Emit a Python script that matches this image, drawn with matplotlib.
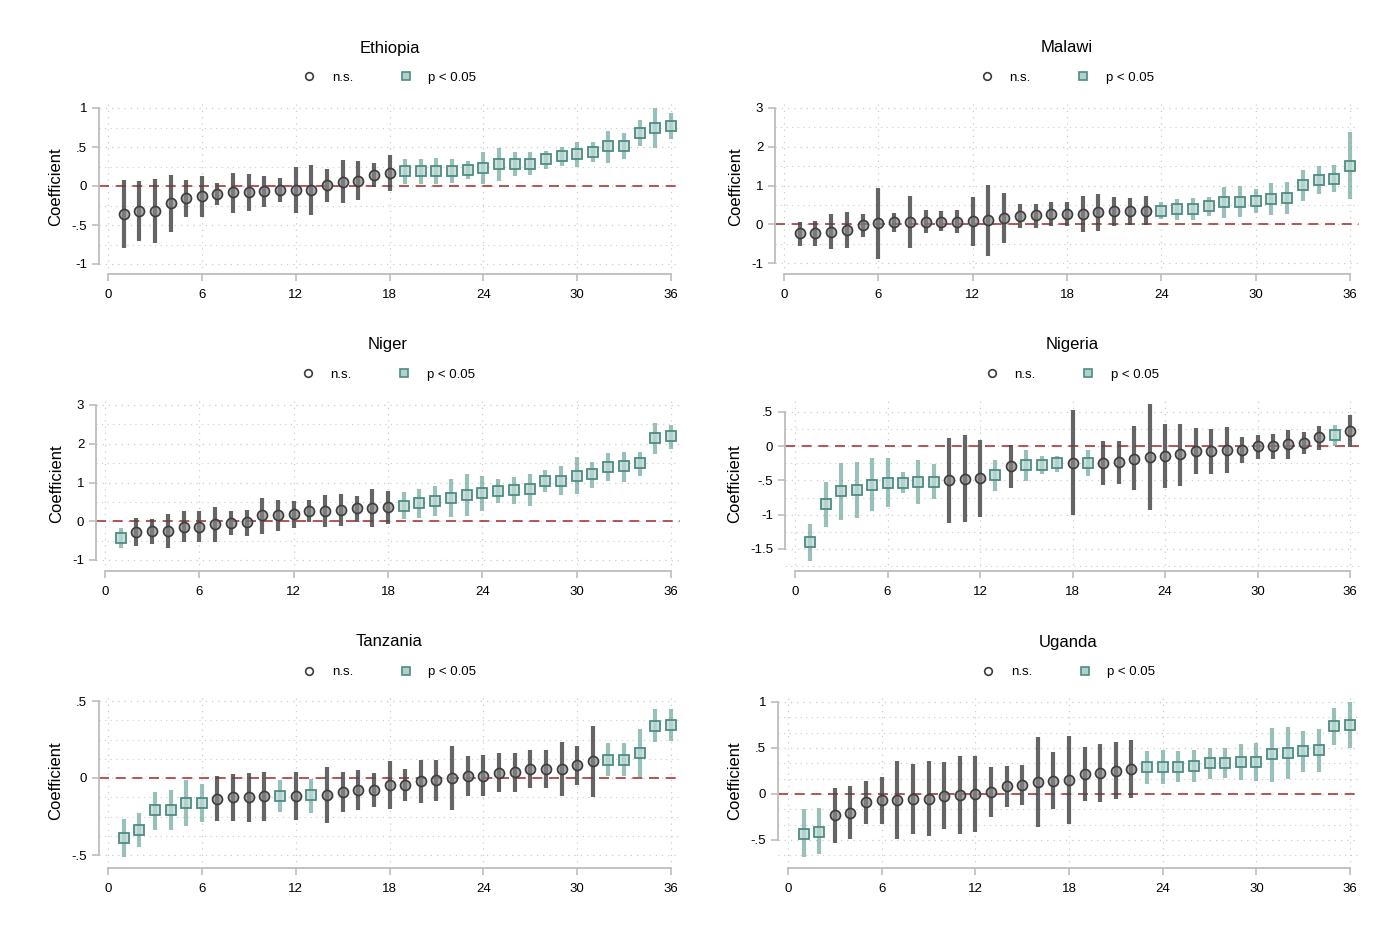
import numpy as np
import matplotlib
matplotlib.use("Agg")
import matplotlib.pyplot as plt
from matplotlib.ticker import FuncFormatter, MultipleLocator

plt.rcParams["font.family"] = ["Liberation Sans", "DejaVu Sans"]

# ---- data ----
rank = np.arange(1, 37)

eth_coef = [-0.355, -0.32, -0.32, -0.22, -0.16, -0.13, -0.10, -0.08, -0.073, -0.07, -0.05, -0.05,
            -0.047, 0.013, 0.056, 0.068, 0.14, 0.17, 0.19, 0.19, 0.19, 0.19, 0.205, 0.235,
            0.28, 0.28, 0.28, 0.34, 0.385, 0.41, 0.44, 0.51, 0.51, 0.68, 0.75, 0.77]
eth_lo = [-0.79, -0.705, -0.73, -0.59, -0.40, -0.40, -0.24, -0.34, -0.32, -0.27, -0.205, -0.34,
          -0.37, -0.20, -0.22, -0.18, -0.013, -0.07, 0.02, 0.03, 0.02, 0.034, 0.085, 0.02,
          0.064, 0.13, 0.137, 0.22, 0.256, 0.24, 0.31, 0.30, 0.34, 0.51, 0.49, 0.60]
eth_hi = [0.08, 0.064, 0.09, 0.137, 0.08, 0.124, 0.04, 0.17, 0.16, 0.13, 0.10, 0.24,
          0.27, 0.22, 0.33, 0.32, 0.29, 0.40, 0.34, 0.34, 0.36, 0.35, 0.32, 0.43,
          0.49, 0.44, 0.43, 0.45, 0.50, 0.57, 0.57, 0.71, 0.68, 0.84, 1.0, 0.93]

mwi_coef = [-0.23, -0.23, -0.20, -0.15, -0.03, 0.03, 0.05, 0.06, 0.07, 0.07, 0.07, 0.08,
            0.10, 0.16, 0.22, 0.23, 0.27, 0.27, 0.27, 0.31, 0.33, 0.35, 0.35, 0.35,
            0.40, 0.40, 0.47, 0.57, 0.58, 0.60, 0.66, 0.67, 1.01, 1.15, 1.18, 1.51]
mwi_lo = [-0.55, -0.55, -0.65, -0.62, -0.33, -0.89, -0.20, -0.61, -0.23, -0.18, -0.23, -0.55,
          -0.81, -0.48, -0.09, -0.09, -0.05, -0.04, -0.20, -0.18, -0.05, -0.01, -0.03, 0.14,
          0.12, 0.12, 0.22, 0.15, 0.18, 0.30, 0.24, 0.26, 0.61, 0.78, 0.82, 0.64]
mwi_hi = [0.07, 0.086, 0.27, 0.32, 0.27, 0.93, 0.30, 0.73, 0.36, 0.33, 0.37, 0.70,
          1.01, 0.81, 0.51, 0.51, 0.57, 0.57, 0.74, 0.79, 0.70, 0.69, 0.74, 0.57,
          0.66, 0.67, 0.71, 0.97, 0.99, 0.90, 1.06, 1.08, 1.39, 1.51, 1.54, 2.38]

ner_coef = [-0.43, -0.27, -0.25, -0.25, -0.14, -0.14, -0.08, -0.04, -0.03, 0.15, 0.15, 0.18,
            0.26, 0.27, 0.30, 0.33, 0.34, 0.36, 0.40, 0.47, 0.53, 0.60, 0.67, 0.74,
            0.78, 0.81, 0.83, 1.05, 1.05, 1.17, 1.21, 1.41, 1.43, 1.50, 2.14, 2.19]
ner_lo = [-0.69, -0.64, -0.58, -0.70, -0.53, -0.53, -0.53, -0.35, -0.39, -0.33, -0.25, -0.17,
          -0.03, -0.14, -0.12, -0.03, -0.16, -0.07, 0.05, 0.09, 0.13, 0.11, 0.14, 0.27,
          0.47, 0.45, 0.39, 0.75, 0.69, 0.70, 0.85, 1.04, 1.02, 1.18, 1.73, 1.86]
ner_hi = [-0.17, 0.09, 0.06, 0.20, 0.26, 0.26, 0.37, 0.26, 0.30, 0.61, 0.55, 0.52,
          0.55, 0.67, 0.71, 0.66, 0.83, 0.77, 0.75, 0.82, 0.92, 1.10, 1.21, 1.18,
          1.09, 1.13, 1.23, 1.33, 1.42, 1.65, 1.54, 1.77, 1.80, 1.80, 2.54, 2.49]

nga_coef = [-1.40, -0.85, -0.66, -0.64, -0.56, -0.53, -0.53, -0.52, -0.52, -0.50, -0.48, -0.47,
            -0.42, -0.29, -0.28, -0.27, -0.25, -0.25, -0.24, -0.24, -0.23, -0.18, -0.16, -0.14,
            -0.12, -0.07, -0.07, -0.05, -0.05, 0.0, 0.005, 0.03, 0.05, 0.13, 0.16, 0.22]
nga_lo = [-1.68, -1.18, -1.07, -1.05, -0.94, -0.89, -0.68, -0.84, -0.77, -1.12, -1.11, -1.04,
          -0.65, -0.61, -0.51, -0.41, -0.37, -1.01, -0.43, -0.56, -0.55, -0.64, -0.93, -0.61,
          -0.58, -0.41, -0.40, -0.39, -0.24, -0.18, -0.18, -0.18, -0.11, -0.05, 0.01, -0.01]
nga_hi = [-1.13, -0.52, -0.25, -0.23, -0.17, -0.17, -0.37, -0.20, -0.26, 0.12, 0.16, 0.09,
          -0.20, 0.02, -0.05, -0.14, -0.14, 0.53, -0.05, 0.08, 0.08, 0.29, 0.61, 0.32,
          0.33, 0.26, 0.25, 0.28, 0.13, 0.17, 0.18, 0.24, 0.21, 0.30, 0.31, 0.45]

tza_coef = [-0.39, -0.335, -0.21, -0.205, -0.16, -0.16, -0.134, -0.125, -0.125, -0.12, -0.115, -0.115,
            -0.11, -0.108, -0.09, -0.078, -0.076, -0.045, -0.043, -0.02, -0.013, -0.002, 0.01, 0.015,
            0.032, 0.037, 0.056, 0.058, 0.06, 0.082, 0.108, 0.12, 0.12, 0.16, 0.34, 0.345]
tza_lo = [-0.51, -0.45, -0.34, -0.335, -0.31, -0.285, -0.28, -0.28, -0.285, -0.28, -0.22, -0.27,
          -0.225, -0.29, -0.22, -0.21, -0.19, -0.20, -0.15, -0.16, -0.15, -0.21, -0.12, -0.12,
          -0.09, -0.09, -0.067, -0.067, -0.12, -0.048, -0.125, 0.01, 0.01, 0.004, 0.235, 0.24]
tza_hi = [-0.265, -0.23, -0.09, -0.08, -0.01, -0.04, 0.01, 0.026, 0.03, 0.037, -0.01, 0.04,
          -0.004, 0.07, 0.04, 0.05, 0.035, 0.11, 0.06, 0.117, 0.12, 0.205, 0.145, 0.15,
          0.16, 0.16, 0.18, 0.18, 0.235, 0.21, 0.34, 0.23, 0.23, 0.32, 0.45, 0.45]

uga_coef = [-0.43, -0.41, -0.23, -0.21, -0.09, -0.07, -0.065, -0.058, -0.05, -0.018, -0.01, -0.004,
            0.02, 0.083, 0.097, 0.13, 0.144, 0.148, 0.217, 0.23, 0.25, 0.27, 0.29, 0.29,
            0.29, 0.30, 0.336, 0.336, 0.347, 0.35, 0.43, 0.444, 0.466, 0.48, 0.74, 0.755]
uga_lo = [-0.69, -0.65, -0.53, -0.49, -0.325, -0.325, -0.49, -0.44, -0.46, -0.38, -0.44, -0.41,
          -0.25, -0.137, -0.115, -0.36, -0.166, -0.33, -0.08, -0.087, -0.058, -0.047, 0.108, 0.112,
          0.126, 0.134, 0.166, 0.17, 0.148, 0.137, 0.134, 0.16, 0.24, 0.24, 0.53, 0.505]
uga_hi = [-0.16, -0.15, 0.065, 0.083, 0.137, 0.18, 0.36, 0.325, 0.36, 0.35, 0.41, 0.41,
          0.29, 0.30, 0.31, 0.62, 0.455, 0.63, 0.51, 0.54, 0.56, 0.59, 0.466, 0.476,
          0.47, 0.476, 0.50, 0.50, 0.54, 0.556, 0.72, 0.73, 0.69, 0.71, 0.94, 1.0]

x_ticks = [0, 6, 12, 18, 24, 30, 36]

# panel layout in pixels: spine x, x0 px, x36 px, top, bottom, (tick a, px a), (tick b, px b), y ticks, minor step
panels = [
    ("Ethiopia", eth_coef, eth_lo, eth_hi, (99, 108, 671, 100, 274, (1, 108), (-1, 264)), [-1, -0.5, 0, 0.5, 1], 0.25),
    ("Malawi", mwi_coef, mwi_lo, mwi_hi, (775, 784, 1350, 100, 274, (3, 108), (-1, 263)), [-1, 0, 1, 2, 3], 0.5),
    ("Niger", ner_coef, ner_lo, ner_hi, (96, 105, 671, 397, 571, (3, 405), (-1, 560)), [-1, 0, 1, 2, 3], 0.5),
    ("Nigeria", nga_coef, nga_lo, nga_hi, (785, 795, 1350, 397, 571, (0.5, 412), (-1.5, 549)), [-1.5, -1, -0.5, 0, 0.5], 0.25),
    ("Tanzania", tza_coef, tza_lo, tza_hi, (99, 108, 671, 694, 868, (0.5, 701), (-0.5, 855)), [-0.5, 0, 0.5], 0.125),
    ("Uganda", uga_coef, uga_lo, uga_hi, (778, 788, 1350, 694, 868, (1, 702), (-0.5, 840)), [-0.5, 0, 0.5, 1], 1 / 6),
]

W, H = 1400, 933
gray_dark = "#3c3c3c"
gray_bar = "#4a4a4a"
teal_edge = "#4e8c82"
teal_bar = "#6fa69d"
teal_fill = "#b3d1cc"
ref_red = "#a83838"
spine_col = "#bdbdbd"
grid_col = "#cccccc"


def stata_fmt(v, pos):
    s = "%g" % v
    if s.startswith("0."):
        s = s[1:]
    elif s.startswith("-0."):
        s = "-" + s[2:]
    return s


fig = plt.figure(figsize=(14, 9.33), dpi=100)

for name, coef, lo, hi, lay, yt, minor in panels:
    sx, x0, x36, top, bot, (ta, pa), (tb, pb) = lay
    right = x36 + 9
    ax = fig.add_axes([sx / W, 1 - bot / H, (right - sx) / W, (bot - top) / H])

    # limits from pixel positions
    upp = 36 / (x36 - x0)
    ax.set_xlim(-(x0 - sx) * upp, 36 + (right - x36) * upp)
    vpp = (ta - tb) / (pb - pa)
    ax.set_ylim(tb - (bot - pb) * vpp, ta + (pa - top) * vpp)

    coef = np.array(coef)
    lo = np.array(lo)
    hi = np.array(hi)
    sig = (lo > 0) | (hi < 0)

    ax.axhline(0, color=ref_red, lw=1.2, dashes=(6, 4), zorder=1.5)

    ns = ~sig
    ax.vlines(rank[ns], lo[ns], hi[ns], color=gray_bar, lw=3.0, alpha=0.85, zorder=2)
    ax.vlines(rank[sig], lo[sig], hi[sig], color=teal_bar, lw=3.0, alpha=0.7, zorder=2)
    ax.plot(rank[ns], coef[ns], "o", ms=7.2, mfc=(0.52, 0.52, 0.52, 0.7), mec=gray_dark, mew=1.2,
            ls="none", zorder=3)
    ax.plot(rank[sig], coef[sig], "s", ms=7.0, mfc=(0.74, 0.85, 0.83, 0.75), mec=teal_edge, mew=1.3,
            ls="none", zorder=3)

    # legend proxies
    h1, = ax.plot([], [], "o", ms=5.5, mfc="none", mec=gray_dark, mew=1.2, ls="none")
    h2, = ax.plot([], [], "s", ms=5.5, mfc=teal_fill, mec=teal_edge, mew=1.2, ls="none")
    ax.legend([h1, h2], ["n.s.", "p < 0.05"], loc="center", ncol=2, frameon=False,
              bbox_to_anchor=(0.5, 1 + 22 / (bot - top)), fontsize=9.5,
              columnspacing=3.5, handletextpad=1.2, handlelength=1.0)
    ax.text(0.5, 1 + 52 / (bot - top), name, transform=ax.transAxes, ha="center", va="center",
            fontsize=12)

    # axes styling
    ax.set_xticks(x_ticks)
    ax.set_yticks(yt)
    ax.yaxis.set_minor_locator(MultipleLocator(minor))
    ax.yaxis.set_major_formatter(FuncFormatter(stata_fmt))
    ax.tick_params(axis="y", which="minor", length=0)
    ax.grid(True, which="major", ls=(0, (1, 4)), color=grid_col, lw=0.9)
    ax.grid(True, which="minor", axis="y", ls=(0, (1, 4)), color=grid_col, lw=0.8)
    ax.set_axisbelow(True)
    for s in ["top", "right"]:
        ax.spines[s].set_visible(False)
    ax.spines["left"].set_bounds(yt[0], yt[-1])
    ax.spines["bottom"].set_bounds(0, 36)
    for s in ["left", "bottom"]:
        ax.spines[s].set_color(spine_col)
        ax.spines[s].set_linewidth(1.3)
    ax.tick_params(axis="both", which="major", color=spine_col, width=1.2, length=5,
                   labelsize=9.5, labelcolor="black")
    ax.tick_params(axis="x", pad=6)
    ax.set_ylabel("Coefficient", fontsize=12, labelpad=6)

fig.savefig("out.png", dpi=100)
